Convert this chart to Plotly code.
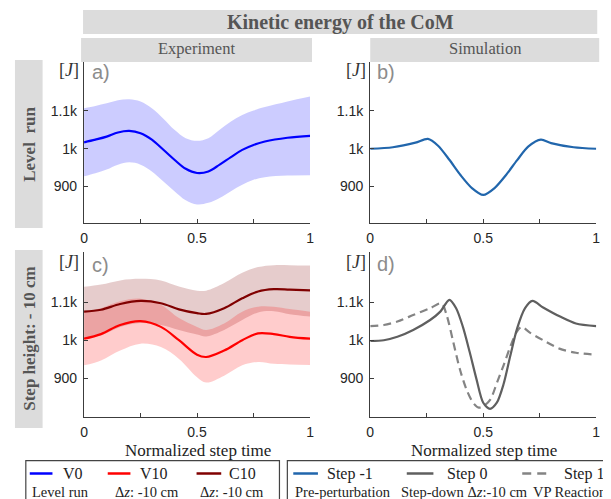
import plotly.graph_objects as go

W, H = 611, 499
OX, OY = 8, 8  # page body margin offset

# ---------------- data ----------------
# Panel a: experiment, level run (V0)
xa = [0, 0.05, 0.1, 0.15, 0.2, 0.25, 0.3, 0.35, 0.4, 0.45, 0.5, 0.55, 0.6, 0.65, 0.7, 0.75, 0.8, 0.9, 1.0]
v0_mean = [1017, 1024, 1032, 1043, 1047, 1041, 1024, 998, 971, 947, 936, 940, 958, 978, 997, 1010, 1019, 1029, 1034]
v0_upper = [1107, 1113, 1120, 1128, 1131, 1125, 1107, 1080, 1050, 1028, 1021, 1028, 1050, 1072, 1089, 1101, 1110, 1125, 1138]
v0_lower = [927, 935, 945, 958, 964, 958, 940, 914, 888, 864, 853, 857, 870, 888, 905, 918, 925, 929, 930]

# Panel b: simulation, level run (Step -1)
xb = [0, 0.1, 0.2, 0.255, 0.3, 0.35, 0.4, 0.45, 0.5, 0.55, 0.6, 0.65, 0.7, 0.755, 0.8, 0.9, 1.0]
step_m1 = [1000, 1004, 1016, 1026, 1008, 971, 930, 896, 878, 896, 930, 970, 1006, 1024, 1015, 1004, 1000]

# Panel c: experiment, step-down (V10, C10)
xc = [0, 0.075, 0.16, 0.25, 0.34, 0.42, 0.5, 0.54, 0.62, 0.7, 0.77, 0.84, 0.91, 1.0]
c10_mean = [1075, 1080, 1095, 1103, 1097, 1081, 1071, 1069, 1084, 1110, 1128, 1134, 1133, 1131]
c10_upper = [1140, 1146, 1157, 1161, 1157, 1141, 1130, 1130, 1150, 1177, 1192, 1197, 1197, 1196]
c10_lower = [1005, 1013, 1035, 1045, 1040, 1027, 1015, 1010, 1027, 1053, 1073, 1076, 1068, 1062]
v10_mean = [1004, 1016, 1040, 1050, 1035, 1000, 962, 956, 973, 1000, 1018, 1016, 1009, 1004]
v10_upper = [1074, 1084, 1102, 1109, 1093, 1058, 1035, 1027, 1044, 1075, 1088, 1088, 1082, 1075]
v10_lower = [934, 947, 973, 991, 982, 951, 903, 889, 907, 934, 943, 938, 936, 935]

# Panel d: simulation, step-down (Step 0, Step 1)
xd0 = [0, 0.06, 0.12, 0.19, 0.265, 0.31, 0.35, 0.38, 0.41, 0.44, 0.47, 0.50, 0.53, 0.56, 0.59,
       0.62, 0.65, 0.685, 0.718, 0.765, 0.84, 0.91, 1.0]
step0 = [998, 1000, 1009, 1027, 1053, 1075, 1106, 1084, 1035, 969, 898, 836, 820, 836, 885,
         960, 1031, 1084, 1103, 1086, 1062, 1044, 1037]
xd1 = [0, 0.06, 0.12, 0.19, 0.265, 0.315, 0.338, 0.367, 0.396, 0.425, 0.455, 0.48, 0.503, 0.532,
       0.561, 0.59, 0.619, 0.648, 0.67, 0.706, 0.765, 0.837, 0.91, 1.0]
step1 = [1037, 1040, 1049, 1066, 1084, 1097, 1066, 996, 925, 872, 836, 823, 828, 845,
         889, 934, 982, 1022, 1035, 1020, 1000, 978, 967, 962]

x_tickvals = [0, 0.25, 0.5, 0.75, 1]
x_ticktext = ["0", "", "0.5", "", "1"]
y_tickvals = [900, 1000, 1100]
y_ticktext = ["900", "1k", "1.1k"]
panel_labels = ["a)", "b)", "c)", "d)"]

# ---------------- style ----------------
BLUE = "#0000ff"
RED = "#ff0000"
DRED = "#800000"
SBLUE = "#2166ac"
GREY0 = "#5f5f5f"
GREY1 = "#848484"
AXC = "#3c3c3c"
SERIF = "Liberation Serif, Times New Roman, serif"
SANS = "Liberation Sans, Arial, sans-serif"
SM = 1.0

def px(x):
    return (x - OX) / W

def py(y):
    return 1 - (y - OY) / H

fig = go.Figure()

def band(xs, up, lo, color, xa_, ya_):
    fig.add_trace(go.Scatter(x=xs, y=up, mode="lines", line=dict(width=0, shape="spline", smoothing=SM),
                             xaxis=xa_, yaxis=ya_, hoverinfo="skip", showlegend=False))
    fig.add_trace(go.Scatter(x=xs, y=lo, mode="lines", line=dict(width=0, shape="spline", smoothing=SM),
                             fill="tonexty", fillcolor=color,
                             xaxis=xa_, yaxis=ya_, hoverinfo="skip", showlegend=False))

def line(xs, ys, color, xa_, ya_, dash="solid", name="", sm=SM):
    fig.add_trace(go.Scatter(x=xs, y=ys, mode="lines", name=name,
                             line=dict(color=color, width=2.2, shape="spline", smoothing=sm, dash=dash),
                             xaxis=xa_, yaxis=ya_, showlegend=False))

# panel a
band(xa, v0_upper, v0_lower, "rgba(0,0,255,0.2)", "x", "y")
line(xa, v0_mean, BLUE, "x", "y", name="V0")
# panel b
line(xb, step_m1, SBLUE, "x2", "y2", name="Step -1", sm=0.8)
# panel c
band(xc, c10_upper, c10_lower, "rgba(128,0,0,0.2)", "x3", "y3")
band(xc, v10_upper, v10_lower, "rgba(255,0,0,0.2)", "x3", "y3")
line(xc, c10_mean, DRED, "x3", "y3", name="C10")
line(xc, v10_mean, RED, "x3", "y3", name="V10")
# panel d
line(xd1, step1, GREY1, "x4", "y4", dash="8px,5px", name="Step 1", sm=0.8)
line(xd0, step0, GREY0, "x4", "y4", name="Step 0", sm=0.8)

xdom_l = [px(81), px(310)]
xdom_r = [px(371), px(600)]
ydom_t = [py(223.3), py(61.7)]
ydom_b = [py(417.2), py(251.8)]

def xaxis(dom, anchor):
    return dict(domain=dom, anchor=anchor, range=[0, 1], tickvals=x_tickvals, ticktext=x_ticktext,
                ticks="inside", ticklen=4, tickcolor=AXC, tickwidth=1.2, showline=True, linecolor=AXC,
                linewidth=1.3, showgrid=False, zeroline=False, ticklabelstandoff=2,
                tickfont=dict(family=SANS, size=14, color="#262626"))

def yaxis(dom, anchor, rng):
    return dict(domain=dom, anchor=anchor, range=rng, tickvals=y_tickvals, ticktext=y_ticktext,
                ticks="inside", ticklen=4, tickcolor=AXC, tickwidth=1.2, showline=True, linecolor=AXC,
                linewidth=1.3, showgrid=False, zeroline=False, ticklabelstandoff=3,
                tickfont=dict(family=SANS, size=14, color="#262626"))

fig.update_layout(
    width=W, height=H, margin=dict(l=0, r=0, t=0, b=0),
    paper_bgcolor="white", plot_bgcolor="white", showlegend=False,
    xaxis=xaxis(xdom_l, "y"), yaxis=yaxis(ydom_t, "x", [803, 1230]),
    xaxis2=xaxis(xdom_r, "y2"), yaxis2=yaxis(ydom_t, "x2", [803, 1230]),
    xaxis3=xaxis(xdom_l, "y3"), yaxis3=yaxis(ydom_b, "x3", [798, 1232]),
    xaxis4=xaxis(xdom_r, "y4"), yaxis4=yaxis(ydom_b, "x4", [798, 1232]),
)

shapes = []
ann = []
BOX = "#dcdcdc"
BOXTXT = "#555555"

def rect(x0, y0, x1, y1, fill=None, linec=None, lw=0):
    shapes.append(dict(type="rect", xref="paper", yref="paper", x0=px(x0), x1=px(x1), y0=py(y1), y1=py(y0),
                       fillcolor=fill if fill else "rgba(0,0,0,0)",
                       line=dict(color=linec if linec else "rgba(0,0,0,0)", width=lw), layer="below"))

def text(x, y, s, size, family=SERIF, color="#222222", xanchor="center", angle=0):
    ann.append(dict(xref="paper", yref="paper", x=px(x), y=py(y), text=s, showarrow=False,
                    xanchor=xanchor, yanchor="middle", textangle=angle,
                    font=dict(family=family, size=size, color=color)))

# header boxes
rect(80, 10, 601, 34, fill=BOX)
text(341, 22, "<b>Kinetic energy of the CoM</b>", 20, color=BOXTXT)
rect(78, 38, 312, 62, fill=BOX)
text(195, 49, "Experiment", 16.5, color=BOXTXT)
rect(371, 38, 603, 62, fill=BOX)
text(487, 49, "Simulation", 16.5, color=BOXTXT)
rect(11, 60, 39, 228, fill=BOX)
text(25, 144, "<b>Level&nbsp;&nbsp;run</b>", 17, color=BOXTXT, angle=-90)
rect(11, 250, 39, 428, fill=BOX)
text(25, 339, "<b>Step height: - 10 cm</b>", 17, color=BOXTXT, angle=-90)

# unit labels and panel letters
for (jx, jy), (lx, ly), lab in zip([(66, 70), (357, 70), (66, 262), (357, 262)],
                                   [(98, 72), (387, 72), (98, 265), (387, 264)], panel_labels):
    text(jx, jy, "[<i>J</i>]", 18, color="#333333")
    text(lx, ly, lab, 20, family=SANS, color="#8c8c8c")

text(196, 450, "Normalized step time", 17, color="#222222")
text(486, 450, "Normalized step time", 17, color="#222222")

# legend boxes
rect(22, 460.7, 279, 515, linec="#444444", lw=1.2)
rect(287, 460.7, 625, 515, linec="#444444", lw=1.2)

def legline(x0, x1, y, color, dash="solid"):
    shapes.append(dict(type="line", xref="paper", yref="paper", x0=px(x0), x1=px(x1), y0=py(y), y1=py(y),
                       line=dict(color=color, width=2.5, dash=dash)))

ROW1, ROW2 = 473.5, 491.5
legline(26, 49, ROW1, BLUE)
text(58, ROW1, "V0", 16, xanchor="left")
legline(105, 128, ROW1, RED)
text(136, ROW1, "V10", 16, xanchor="left")
legline(195, 220, ROW1, DRED)
text(226, ROW1, "C10", 16, xanchor="left")
text(57, ROW2, "Level run", 14.5)
text(145, ROW2, "Δ<i>z</i>: -10 cm", 14.5)
text(231, ROW2, "Δ<i>z</i>: -10 cm", 14.5)

legline(293, 318, ROW1, SBLUE)
text(325, ROW1, "Step -1", 16, xanchor="left")
legline(408, 435, ROW1, GREY0)
text(447, ROW1, "Step 0", 16, xanchor="left")
legline(525, 553, ROW1, GREY1, dash="9px,6px")
text(565, ROW1, "Step 1", 16, xanchor="left")
text(343, ROW2, "Pre-perturbation", 14.5)
text(466, ROW2, "Step-down Δ<i>z</i>:-10 cm", 14.5)
text(573, ROW2, "VP Reaction", 14.5)

fig.update_layout(shapes=shapes, annotations=ann)
fig.write_html("out.html")
